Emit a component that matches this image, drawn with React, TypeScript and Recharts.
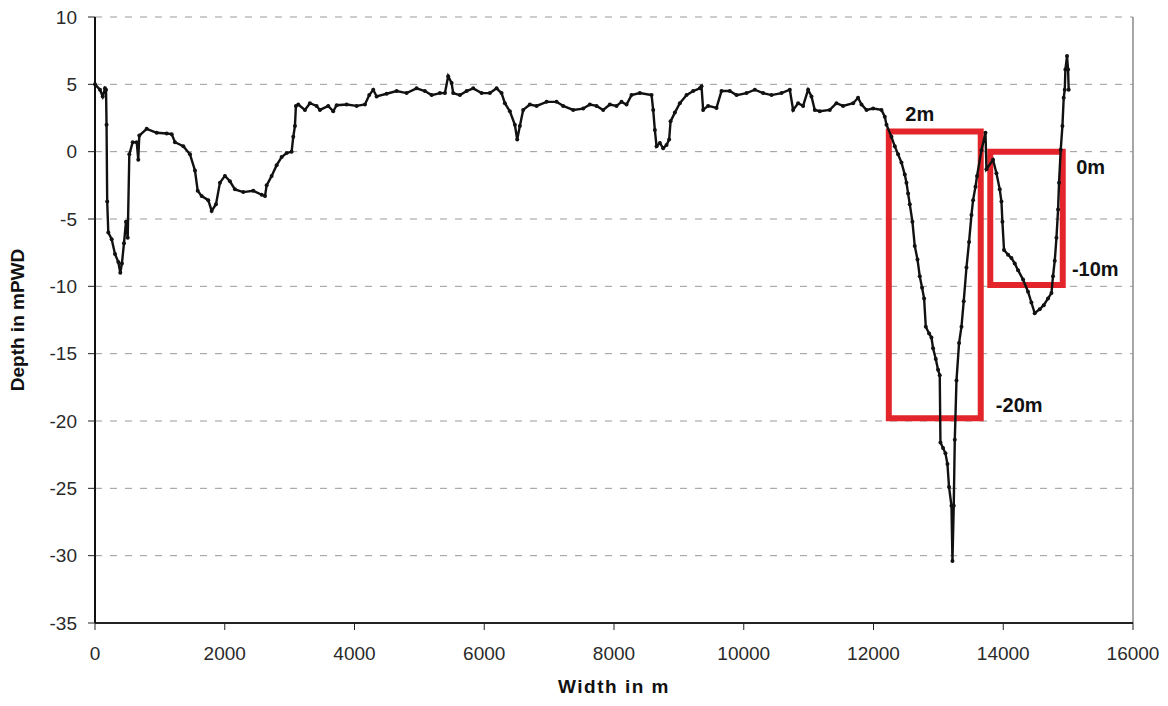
import { CartesianGrid, Line, LineChart, ReferenceArea, ReferenceDot, ReferenceLine, XAxis, YAxis } from "recharts";

// survey profile
const widthM = [
    0, 77, 119, 154, 170, 178, 188, 205, 257, 308, 359, 390, 415, 447, 478, 504, 529, 581, 643, 667,
    683, 797, 951, 1105, 1182, 1233, 1361, 1464, 1541, 1583, 1644, 1746, 1798, 1865, 1926, 2003, 2080, 2157, 2285, 2439,
    2569, 2620, 2646, 2723, 2800, 2877, 2954, 3031, 3056, 3082, 3097, 3133, 3236, 3313, 3416, 3467, 3595, 3672, 3725, 3879,
    4033, 4161, 4227, 4289, 4341, 4495, 4649, 4803, 4957, 5085, 5189, 5317, 5394, 5444, 5497, 5521, 5625, 5728, 5830, 5959,
    6087, 6190, 6267, 6318, 6395, 6472, 6508, 6549, 6600, 6703, 6806, 6961, 7115, 7216, 7371, 7525, 7628, 7731, 7833, 7936,
    8039, 8116, 8193, 8270, 8398, 8579, 8604, 8630, 8656, 8707, 8758, 8810, 8850, 8872, 8938, 9015, 9118, 9220, 9323, 9349,
    9374, 9451, 9580, 9657, 9785, 9889, 10043, 10171, 10298, 10428, 10582, 10710, 10761, 10838, 10915, 10992, 11044, 11095, 11172, 11326,
    11429, 11531, 11686, 11762, 11815, 11892, 11994, 12123, 12174, 12200, 12277, 12328, 12379, 12431, 12482, 12508, 12533, 12559, 12600, 12636,
    12678, 12713, 12749, 12780, 12806, 12857, 12893, 12918, 12960, 12995, 13021, 13032, 13072, 13109, 13140, 13164, 13202, 13217, 13237, 13253,
    13279, 13319, 13356, 13391, 13433, 13473, 13510, 13535, 13572, 13596, 13664, 13726, 13741, 13843, 13895, 13946, 13972, 13987, 14012, 14074,
    14126, 14177, 14228, 14305, 14382, 14434, 14485, 14562, 14624, 14690, 14743, 14767, 14794, 14820, 14845, 14860, 14886, 14912, 14932, 14948,
    14958, 14983, 14999, 15009,
];

const depthM = [
    5.0, 4.6, 4.1, 4.7, 4.6, 2.0, -3.7, -6.0, -6.5, -7.6, -8.2, -9.0, -8.3, -6.8, -5.2, -6.4, -0.2, 0.7, 0.7, -0.6,
    1.2, 1.7, 1.4, 1.35, 1.3, 0.7, 0.4, -0.2, -1.4, -2.9, -3.3, -3.6, -4.4, -3.9, -2.3, -1.8, -2.2, -2.8, -3.0, -2.9,
    -3.2, -3.3, -2.5, -1.8, -1.0, -0.4, -0.1, 0.0, 1.1, 1.9, 3.4, 3.5, 3.1, 3.6, 3.4, 3.1, 3.4, 3.0, 3.45, 3.5,
    3.4, 3.5, 4.2, 4.6, 4.1, 4.3, 4.5, 4.35, 4.7, 4.5, 4.2, 4.35, 4.35, 5.6, 5.1, 4.35, 4.2, 4.5, 4.7, 4.35,
    4.35, 4.7, 4.35, 3.6, 3.0, 2.0, 0.9, 1.9, 3.1, 3.5, 3.4, 3.7, 3.7, 3.4, 3.1, 3.2, 3.5, 3.4, 3.1, 3.5,
    3.4, 3.7, 3.5, 4.2, 4.35, 4.2, 3.1, 1.6, 0.4, 0.65, 0.25, 0.5, 0.9, 2.25, 2.9, 3.6, 4.2, 4.5, 4.7, 4.85,
    3.1, 3.4, 3.25, 4.5, 4.5, 4.2, 4.35, 4.6, 4.35, 4.2, 4.35, 4.6, 3.1, 3.6, 3.4, 4.6, 4.1, 3.1, 3.0, 3.1,
    3.6, 3.4, 3.6, 4.0, 3.5, 3.1, 3.2, 3.1, 2.6, 2.0, 1.1, 0.4, -0.2, -0.8, -1.7, -2.3, -3.1, -3.9, -5.2, -7.0,
    -8.0, -9.25, -10.1, -10.9, -13.0, -13.5, -13.8, -14.6, -15.4, -16.2, -16.6, -21.6, -22.0, -22.4, -23.2, -24.9, -26.3, -30.4, -26.3, -21.4,
    -17.0, -14.2, -13.0, -11.1, -8.6, -6.7, -4.7, -3.6, -2.6, -1.8, 0.1, 1.4, -1.3, -0.6, -1.6, -2.8, -3.7, -5.2, -7.3, -7.65,
    -7.9, -8.3, -8.8, -9.5, -10.4, -11.2, -12.0, -11.7, -11.4, -10.9, -10.5, -9.25, -8.1, -6.4, -4.3, -2.3, 0.15, 1.9, 4.0, 4.6,
    6.1, 7.1, 6.1, 4.6,
];

const xTicks = [0, 2000, 4000, 6000, 8000, 10000, 12000, 14000, 16000];
const yTicks = [10, 5, 0, -5, -10, -15, -20, -25, -30, -35];

// red boxes: [x1, x2, y1, y2]
const boxes = [
    [12236, 13653, 1.5, -19.8],
    [13800, 14917, 0, -9.9],
];

const boxLabels = [
    { text: "2m", x: 12713, y: 2.82 },
    { text: "0m", x: 15348, y: -1.15 },
    { text: "-10m", x: 15418, y: -8.74 },
    { text: "-20m", x: 14246, y: -18.78 },
];

const data = widthM.map((w, i) => ({ width: w, depth: depthM[i] }));

const FONT = "'Liberation Sans', Arial, sans-serif";
const RED = "#e3252b";

export default function App() {
    return (
        <div style={{ width: 1152, height: 690, fontFamily: FONT, background: "#fff" }}>
            <LineChart width={1152} height={690} data={data} margin={{ top: 9, right: 27, bottom: 0, left: 0 }}>
                <CartesianGrid vertical={false} stroke="#9a9a9a" strokeDasharray="7 8" />
                <XAxis
                    type="number"
                    dataKey="width"
                    domain={[0, 16000]}
                    ticks={xTicks}
                    interval={0}
                    height={75}
                    tickSize={7}
                    tickMargin={17}
                    axisLine={{ stroke: "#222", strokeWidth: 2 }}
                    tickLine={{ stroke: "#222" }}
                    tick={{ fill: "#2a2a2a", fontSize: 19, fontFamily: FONT }}
                    label={{
                        value: "Width in m",
                        position: "insideBottom",
                        offset: 5,
                        style: { fontWeight: "bold", fontSize: 19, fill: "#111", letterSpacing: 1.5, fontFamily: FONT },
                    }}
                />
                {/* top frame line */}
                <XAxis
                    xAxisId="top"
                    orientation="top"
                    type="number"
                    dataKey="width"
                    domain={[0, 16000]}
                    height={0}
                    tick={false}
                    tickLine={false}
                    axisLine={{ stroke: "#222", strokeWidth: 2 }}
                />
                <YAxis
                    type="number"
                    domain={[-35, 10]}
                    ticks={yTicks}
                    interval={0}
                    width={87}
                    tickSize={7}
                    tickMargin={11}
                    axisLine={{ stroke: "#111", strokeWidth: 2 }}
                    tickLine={{ stroke: "#222" }}
                    tick={{ fill: "#2a2a2a", fontSize: 19, fontFamily: FONT }}
                    label={{
                        value: "Depth in mPWD",
                        angle: -90,
                        position: "insideLeft",
                        offset: 9,
                        style: { fontWeight: "bold", fontSize: 19, fill: "#111", textAnchor: "middle", fontFamily: FONT },
                    }}
                />
                <ReferenceLine x={16000} stroke="#8a8a8a" strokeWidth={1.5} ifOverflow="visible" />
                <Line
                    type="linear"
                    dataKey="depth"
                    stroke="#111"
                    strokeWidth={2.4}
                    dot={{ r: 2, fill: "#111", stroke: "#111", strokeWidth: 0 }}
                    activeDot={false}
                    isAnimationActive={false}
                />
                {boxes.map((b, i) => (
                    <ReferenceArea key={i} x1={b[0]} x2={b[1]} y1={b[2]} y2={b[3]} fill="none" stroke={RED} strokeWidth={6} />
                ))}
                {boxLabels.map((l) => (
                    <ReferenceDot
                        key={l.text}
                        x={l.x}
                        y={l.y}
                        r={0}
                        fill="none"
                        stroke="none"
                        label={{
                            value: l.text,
                            position: "center",
                            style: { fontWeight: "bold", fontSize: 20, fill: "#111", fontFamily: FONT },
                        }}
                    />
                ))}
            </LineChart>
        </div>
    );
}
